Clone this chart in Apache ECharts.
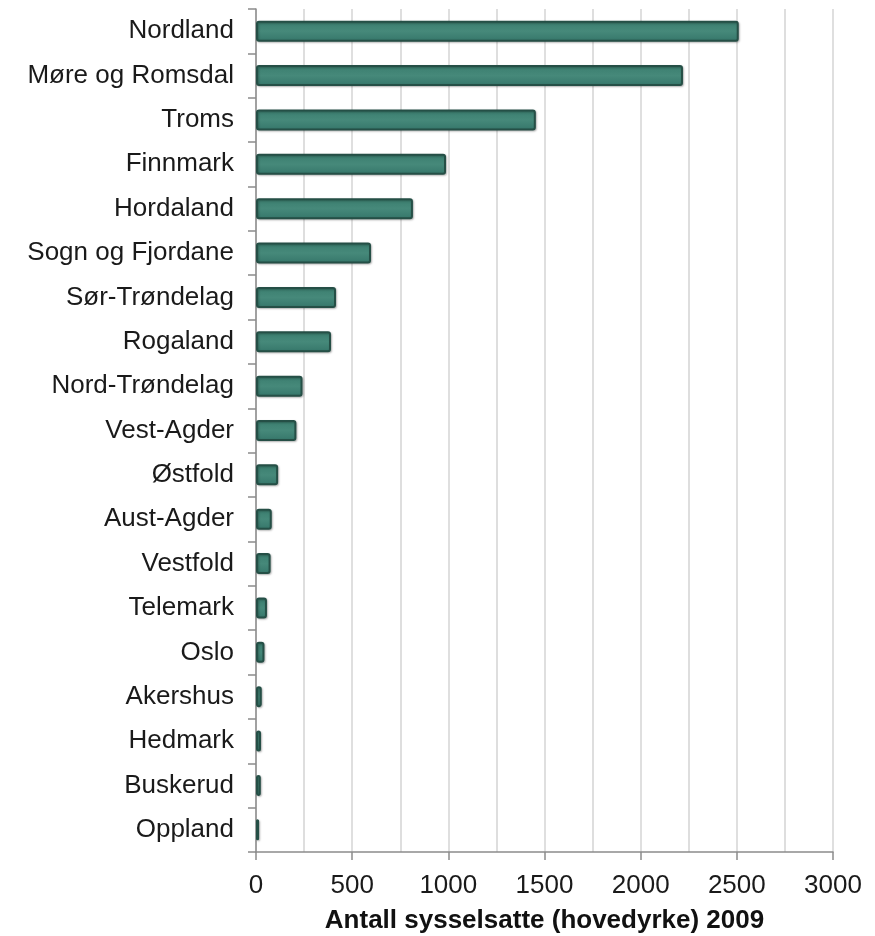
<!DOCTYPE html>
<html>
<head>
<meta charset="utf-8">
<script src="https://cdn.jsdelivr.net/npm/echarts@6/dist/echarts.min.js"></script>
<style>
html,body{margin:0;padding:0;background:#fff;}
#chart{width:875px;height:936px;}
</style>
</head>
<body>
<div id="chart"></div>
<script>
const categories = ["Nordland","Møre og Romsdal","Troms","Finnmark","Hordaland","Sogn og Fjordane","Sør-Trøndelag","Rogaland","Nord-Trøndelag","Vest-Agder","Østfold","Aust-Agder","Vestfold","Telemark","Oslo","Akershus","Hedmark","Buskerud","Oppland"];
const values = [2510,2220,1455,988,816,598,416,390,242,210,115,82,76,57,44,30,26,25,16];
const xAxisName = "Antall sysselsatte (hovedyrke) 2009";

const chart = echarts.init(document.getElementById('chart'));
const font = "'Liberation Sans', Arial, sans-serif";
chart.setOption({
  animation: false,
  grid: {left: 256, right: 42, top: 9, bottom: 84, containLabel: false, outerBoundsMode: 'none'},
  xAxis: {
    type: 'value', min: 0, max: 3000, interval: 500,
    name: xAxisName, nameLocation: 'middle', nameGap: 56,
    nameTextStyle: {fontFamily: font, fontSize: 26, fontWeight: 'bold', color: '#111'},
    axisLine: {show: true, lineStyle: {color: '#8c8c8c', width: 1.5}},
    axisTick: {show: true, length: 8, lineStyle: {color: '#8c8c8c', width: 1.5}},
    axisLabel: {fontFamily: font, fontSize: 26, color: '#1a1a1a', margin: 21, formatter: v => String(v)},
    splitLine: {show: true, lineStyle: {color: '#d4d4d4', width: 1.5}},
    minorTick: {show: false, splitNumber: 2},
    minorSplitLine: {show: true, lineStyle: {color: '#d4d4d4', width: 1.5}}
  },
  yAxis: {
    type: 'category', data: categories, inverse: true,
    axisLine: {show: true, lineStyle: {color: '#8c8c8c', width: 1.5}},
    axisTick: {show: true, length: 8, lineStyle: {color: '#8c8c8c', width: 1.5}},
    axisLabel: {fontFamily: font, fontSize: 26, color: '#1a1a1a', margin: 22}
  },
  series: [{
    type: 'bar', data: values, barWidth: 21,
    itemStyle: {
      color: new echarts.graphic.LinearGradient(0,0,0,1,[
        {offset:0,color:'#3a7d6e'},{offset:0.5,color:'#46897a'},{offset:1,color:'#35766a'}]),
      borderColor: '#254f46', borderWidth: 2, borderRadius: 2,
      shadowColor: 'rgba(0,0,0,0.25)', shadowBlur: 2, shadowOffsetX: 1, shadowOffsetY: 1
    }
  }]
});
</script>
</body>
</html>
